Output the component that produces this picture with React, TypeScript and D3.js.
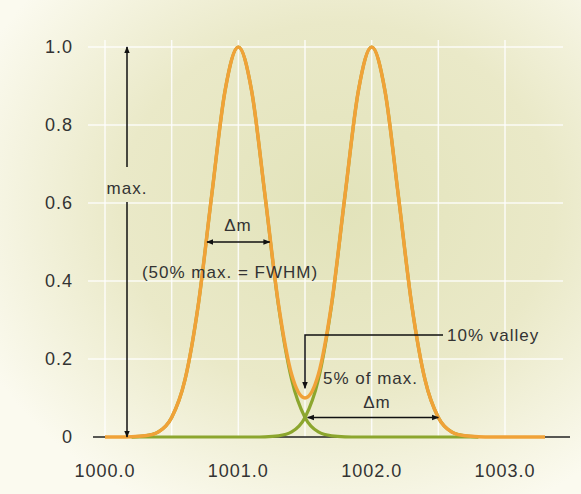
import * as d3 from 'd3';

// mass axis (u), 0.1 steps
const massOrange = [
  1000.0, 1000.1, 1000.2, 1000.3, 1000.4, 1000.5, 1000.6, 1000.7, 1000.8, 1000.9,
  1001.0, 1001.1, 1001.2, 1001.3, 1001.4, 1001.5, 1001.6, 1001.7, 1001.8, 1001.9,
  1002.0, 1002.1, 1002.2, 1002.3, 1002.4, 1002.5, 1002.6, 1002.7, 1002.8, 1002.9,
  1003.0, 1003.1, 1003.2, 1003.3,
];
// summed signal (orange)
const sumValues = [
  0, 0, 0.0005, 0.003, 0.013, 0.05, 0.147, 0.34, 0.619, 0.887,
  1.0, 0.887, 0.62, 0.343, 0.16, 0.1, 0.16, 0.343, 0.62, 0.887,
  1.0, 0.887, 0.619, 0.34, 0.147, 0.05, 0.013, 0.003, 0.0005, 0,
  0, 0, 0, 0,
];

const massGreen = [
  1000.2, 1000.3, 1000.4, 1000.5, 1000.6, 1000.7, 1000.8, 1000.9,
  1001.0, 1001.1, 1001.2, 1001.3, 1001.4, 1001.5, 1001.6, 1001.7, 1001.8, 1001.9,
  1002.0, 1002.1, 1002.2, 1002.3, 1002.4, 1002.5, 1002.6, 1002.7, 1002.8,
];
// single peaks (green)
const peakA = [
  0.0005, 0.003, 0.013, 0.05, 0.147, 0.34, 0.619, 0.887,
  1.0, 0.887, 0.619, 0.34, 0.147, 0.05, 0.013, 0.003, 0.0005, 0,
  0, 0, 0, 0, 0, 0, 0, 0, 0,
];
const peakB = [
  0, 0, 0, 0, 0, 0, 0, 0,
  0, 0, 0.0005, 0.003, 0.013, 0.05, 0.147, 0.34, 0.619, 0.887,
  1.0, 0.887, 0.619, 0.34, 0.147, 0.05, 0.013, 0.003, 0.0005,
];

const xTicks = [1000, 1001, 1002, 1003];
const xTickLabels = ['1000.0', '1001.0', '1002.0', '1003.0'];
const yTicks = [0, 0.2, 0.4, 0.6, 0.8, 1.0];
const yTickLabels = ['0', '0.2', '0.4', '0.6', '0.8', '1.0'];
const xGrid = [1000, 1000.5, 1001, 1001.5, 1002, 1002.5, 1003];

const W = 581;
const H = 494;
const font = '"Liberation Sans", Arial, sans-serif';
const textColor = '#333';

const App = () => {
  const x = d3.scaleLinear().domain([1000, 1003]).range([105, 505]);
  const y = d3.scaleLinear().domain([0, 1]).range([437, 47]);

  const line = d3
    .line<[number, number]>()
    .x((d) => x(d[0]))
    .y((d) => y(d[1]))
    .curve(d3.curveMonotoneX);

  const orangePath = line(massOrange.map((m, i) => [m, sumValues[i]]) as [number, number][]) as string;
  const greenA = line(massGreen.map((m, i) => [m, peakA[i]]) as [number, number][]) as string;
  const greenB = line(massGreen.map((m, i) => [m, peakB[i]]) as [number, number][]) as string;

  const txt = { fontFamily: font, fill: textColor, letterSpacing: 1 } as const;
  const maxX = x(1000.165);

  return (
    <svg width={W} height={H} style={{ position: 'absolute', left: 0, top: 0 }}>
      <defs>
        <radialGradient id="bg" cx="58%" cy="42%" r="68%">
          <stop offset="0" stopColor="#e2e3ba" />
          <stop offset="0.55" stopColor="#eae9c8" />
          <stop offset="1" stopColor="#fbfaef" />
        </radialGradient>
        <marker id="ah" viewBox="0 0 10 10" refX="9" refY="5" markerWidth="7" markerHeight="7" orient="auto-start-reverse" markerUnits="userSpaceOnUse">
          <path d="M0,1 L10,5 L0,9 Z" fill="#111" />
        </marker>
      </defs>
      <rect x={0} y={0} width={W} height={H} fill="url(#bg)" />

      {/* grid */}
      {xGrid.map((g) => (
        <line key={'gx' + g} x1={x(g)} x2={x(g)} y1={40} y2={y(0)} stroke="#fff" strokeWidth={1.5} opacity={0.85} />
      ))}
      {yTicks.filter((t) => t > 0).map((t) => (
        <line key={'gy' + t} x1={88} x2={563} y1={y(t)} y2={y(t)} stroke="#fff" strokeWidth={1.5} opacity={0.85} />
      ))}

      {/* axis */}
      <line x1={93} x2={570} y1={y(0)} y2={y(0)} stroke="#222" strokeWidth={1.5} />

      {/* curves */}
      <path d={greenA} fill="none" stroke="#8ca62e" strokeWidth={3.2} />
      <path d={greenB} fill="none" stroke="#8ca62e" strokeWidth={3.2} />
      <path d={orangePath} fill="none" stroke="#f0a238" strokeWidth={3.5} strokeLinejoin="round" />

      {/* tick labels */}
      {xTicks.map((t, i) => (
        <text key={'xt' + t} x={x(t)} y={477} textAnchor="middle" fontSize={18} {...txt}>
          {xTickLabels[i]}
        </text>
      ))}
      {yTicks.map((t, i) => (
        <text key={'yt' + t} x={73} y={y(t)} textAnchor="end" dominantBaseline="central" fontSize={18} {...txt}>
          {yTickLabels[i]}
        </text>
      ))}

      {/* max. arrow */}
      <line x1={maxX} x2={maxX} y1={167} y2={y(1)} stroke="#111" strokeWidth={1.5} markerEnd="url(#ah)" />
      <line x1={maxX} x2={maxX} y1={202} y2={y(0)} stroke="#111" strokeWidth={1.5} markerEnd="url(#ah)" />
      <text x={maxX} y={188} textAnchor="middle" dominantBaseline="central" fontSize={17} {...txt}>
        max.
      </text>

      {/* FWHM */}
      <line x1={x(1000.765)} x2={x(1001.235)} y1={y(0.5)} y2={y(0.5)} stroke="#111" strokeWidth={1.5} markerStart="url(#ah)" markerEnd="url(#ah)" />
      <text x={238} y={225} textAnchor="middle" dominantBaseline="central" fontSize={17} {...txt}>
        Δm
      </text>
      <text x={230} y={272} textAnchor="middle" dominantBaseline="central" fontSize={17} {...txt}>
        (50% max. = FWHM)
      </text>

      {/* 10% valley */}
      <polyline
        points={`443,335 ${x(1001.5)},335 ${x(1001.5)},${y(0.125)}`}
        fill="none"
        stroke="#111"
        strokeWidth={1.5}
        markerEnd="url(#ah)"
      />
      <text x={447} y={335} dominantBaseline="central" fontSize={17} {...txt}>
        10% valley
      </text>

      {/* 5% of max. */}
      <text x={323} y={378} dominantBaseline="central" fontSize={17} {...txt}>
        5% of max.
      </text>
      <text x={377} y={402} textAnchor="middle" dominantBaseline="central" fontSize={17} {...txt}>
        Δm
      </text>
      <line x1={x(1001.52)} x2={x(1002.5)} y1={y(0.05)} y2={y(0.05)} stroke="#111" strokeWidth={1.5} markerStart="url(#ah)" markerEnd="url(#ah)" />
    </svg>
  );
};

export default App;
